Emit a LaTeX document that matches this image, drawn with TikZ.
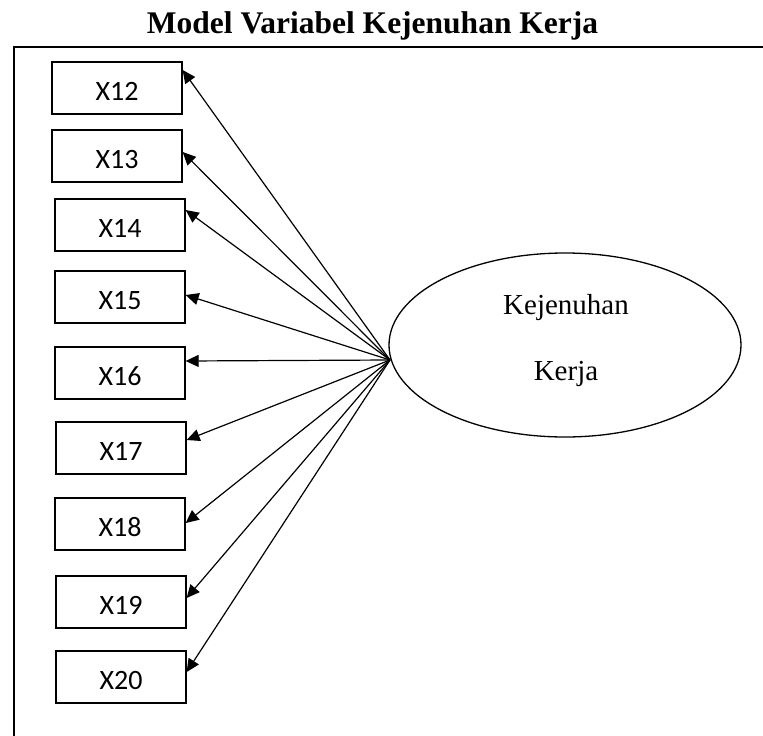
\documentclass[tikz,border=0pt]{standalone}
\usepackage{fontspec}
\setmainfont{Liberation Serif}
\newfontfamily\boxfont{Carlito}
\usetikzlibrary{arrows.meta,shapes.geometric}

\tikzset{
  indicator/.style={draw, line width=1.3pt, rectangle, inner sep=0pt,
    minimum width=130pt, minimum height=52pt, text height=38pt, text depth=14pt,
    font=\boxfont\fontsize{28}{30}\selectfont},
  loading/.style={line width=1.2pt, -{Triangle[length=13pt,width=12pt]}},
  latent/.style={draw, line width=1.3pt, ellipse, inner sep=0pt,
    minimum width=352pt, minimum height=184pt},
  latlabel/.style={anchor=base, font=\fontsize{29}{32}\selectfont, inner sep=0pt},
}

\begin{document}
\begin{tikzpicture}[x=1pt, y=-1pt]
  \useasboundingbox (0,0) rectangle (763,736);

  % title and frame
  \node[anchor=base, inner sep=0pt, font=\bfseries\fontsize{31.5}{34}\selectfont] (title) at (372.5,34) {Model Variabel Kejenuhan Kerja};
  \draw[line width=2pt] (14,736) -- (14,47) -- (763,47);

  % indicators
  \node[indicator] (x12) at (117,88)  {X12};
  \node[indicator] (x13) at (117,156) {X13};
  \node[indicator] (x14) at (120,225) {X14};
  \node[indicator] (x15) at (120,297) {X15};
  \node[indicator] (x16) at (120,373) {X16};
  \node[indicator] (x17) at (121,448) {X17};
  \node[indicator] (x18) at (120,524) {X18};
  \node[indicator] (x19) at (121,602) {X19};
  \node[indicator] (x20) at (121,677) {X20};

  % latent variable
  \node[latent] (lat) at (565,345) {};
  \node[latlabel] (lat1) at (566,314) {Kejenuhan};
  \node[latlabel] (lat2) at (566,380) {Kerja};
  \coordinate (src) at (390,360);

  % loadings
  \draw[loading] (src) -- ([yshift=18pt]x12.east);
  \draw[loading] (src) -- ([yshift=4pt]x13.east);
  \draw[loading] (src) -- ([yshift=15pt]x14.east);
  \draw[loading] (src) -- ([yshift=2pt]x15.east);
  \draw[loading] (src) -- ([yshift=12pt]x16.east);
  \draw[loading] (src) -- ([yshift=8pt]x17.east);
  \draw[loading] (src) -- ([yshift=1pt]x18.east);
  \draw[loading] (src) -- ([yshift=4pt]x19.east);
  \draw[loading] (src) -- ([yshift=5pt]x20.east);
\end{tikzpicture}
\end{document}
